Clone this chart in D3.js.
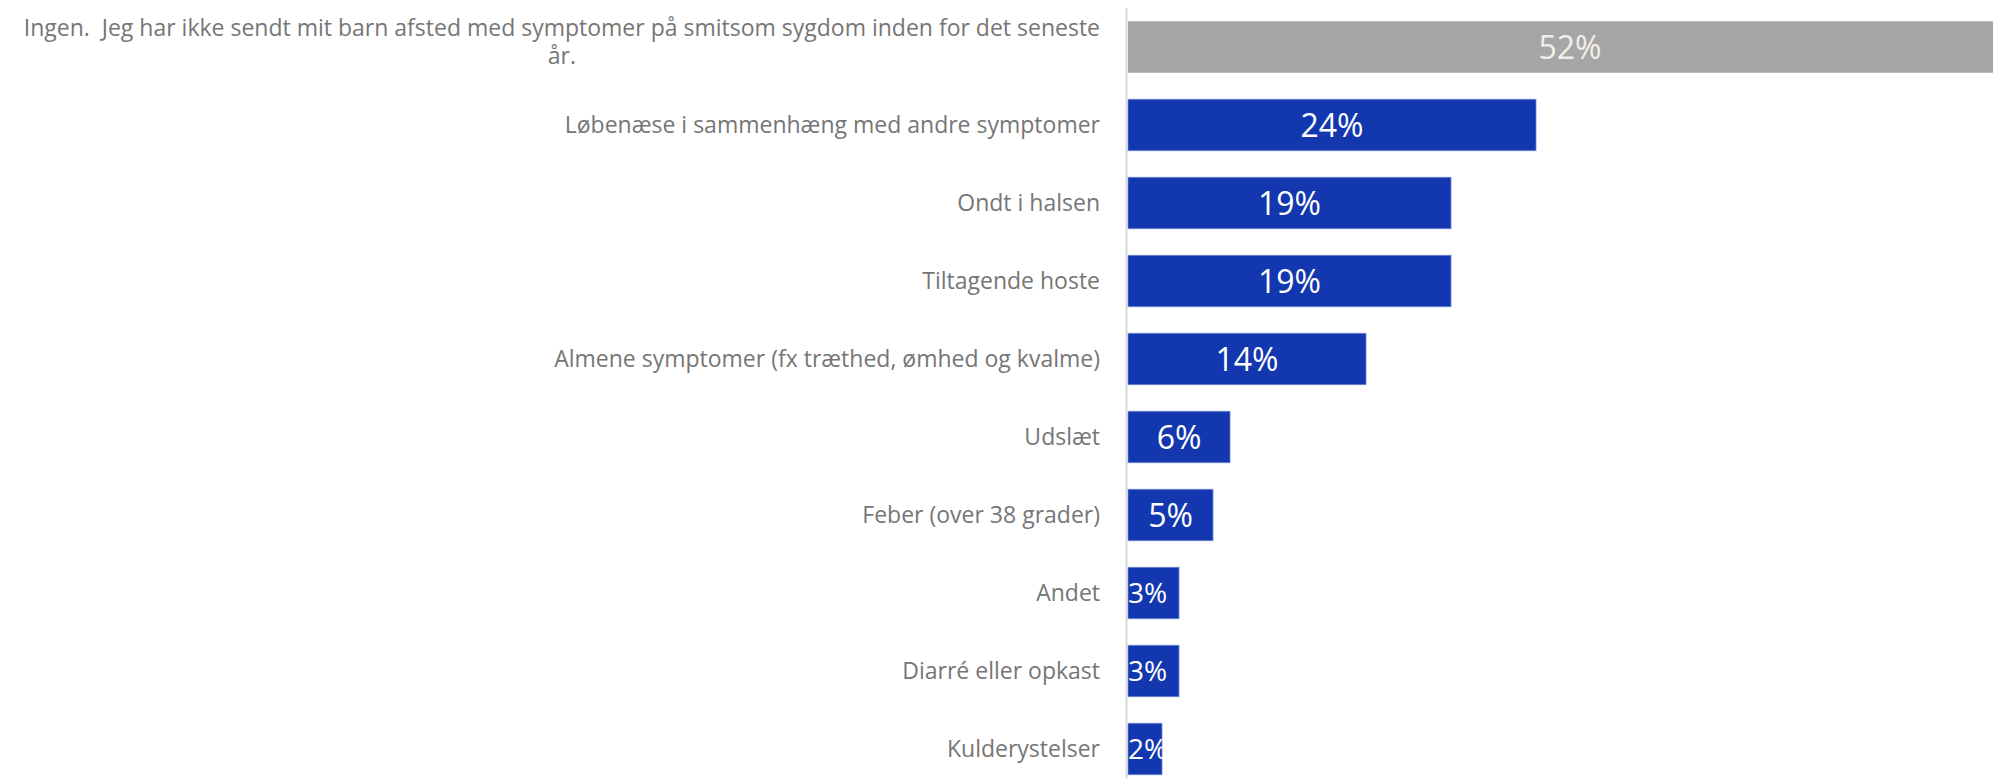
<!DOCTYPE html>
<html>
<head>
<meta charset="utf-8">
<script src="https://cdn.jsdelivr.net/npm/d3@7"></script>
<style>
  body { margin: 0; background: #fff; }
  svg { display: block; }
  text { white-space: pre; }
</style>
</head>
<body>
<div id="chart"></div>
<script>
// answers, top to bottom
const categories = [
	"Ingen.  Jeg har ikke sendt mit barn afsted med symptomer på smitsom sygdom inden for det seneste år.",
	"Løbenæse i sammenhæng med andre symptomer",
	"Ondt i halsen",
	"Tiltagende hoste",
	"Almene symptomer (fx træthed, ømhed og kvalme)",
	"Udslæt",
	"Feber (over 38 grader)",
	"Andet",
	"Diarré eller opkast",
	"Kulderystelser"
]
const values = [52, 24, 19, 19, 14, 6, 5, 3, 3, 2]
// first row is the "none" answer, drawn in gray
const highlight = [true, false, false, false, false, false, false, false, false, false]

const width = 1993
const height = 779
const x0 = 1128

const svg = d3.select("#chart").append("svg")
	.attr("width", width)
	.attr("height", height)
	.attr("font-family", "'Open Sans', sans-serif")

const x = d3.scaleLinear()
	.domain([0, 52])
	.range([x0, x0 + 884])

const y = d3.scaleBand()
	.domain(categories)
	.range([8, 788])
	.paddingInner(0.34)
	.paddingOuter(0.17)

const rows = categories.map((c, i) => ({cat: c, value: values[i], gray: highlight[i]}))

// bars
svg.append("g")
	.selectAll("rect")
	.data(rows)
	.join("rect")
		.attr("x", x(0))
		.attr("y", d => y(d.cat))
		.attr("width", d => x(d.value) - x(0))
		.attr("height", y.bandwidth())
		.attr("fill", d => d.gray ? "#a6a6a6" : "#1237ae")
		.attr("stroke", d => d.gray ? "none" : "#6f88d6")
		.attr("stroke-width", 0.8)

// vertical axis line
svg.append("line")
	.attr("x1", x(0) - 1.5)
	.attr("x2", x(0) - 1.5)
	.attr("y1", 8)
	.attr("y2", height)
	.attr("stroke", "#d9d9d9")
	.attr("stroke-width", 2)

// category labels, the long one wraps on two lines
const labelX = 1100
const lab = svg.append("g")
	.attr("fill", "#767676")
	.attr("font-size", 23)
	.selectAll("text")
	.data(rows)
	.join("text")
		.attr("y", d => y(d.cat) + y.bandwidth() / 2)

lab.each(function(d) {
	const t = d3.select(this)
	if (d.cat.length > 60) {
		const cut = d.cat.lastIndexOf(" ")
		const l1 = d.cat.slice(0, cut), l2 = d.cat.slice(cut + 1)
		t.attr("text-anchor", "middle")
		const a = t.append("tspan").attr("dy", "-0.5em").text(l1)
		const w = a.node().getComputedTextLength()
		a.attr("x", labelX - w / 2)
		t.append("tspan").attr("x", labelX - w / 2).attr("dy", "1.24em").text(l2)
	} else {
		t.attr("x", labelX)
			.attr("text-anchor", "end")
			.attr("dy", "0.35em")
			.text(d.cat)
	}
})

// value labels inside the bars
svg.append("g")
	.selectAll("text")
	.data(rows)
	.join("text")
		.attr("x", d => d.value <= 3 ? x(0) : (x(0) + x(d.value)) / 2)
		.attr("y", d => y(d.cat) + y.bandwidth() / 2)
		.attr("dy", "0.36em")
		.attr("text-anchor", d => d.value <= 3 ? "start" : "middle")
		.attr("font-size", d => d.value <= 3 ? 28 : 32)
		.attr("fill", d => d.gray ? "#f2f0e6" : "#ffffff")
		.text(d => d.value + "%")
</script>
</body>
</html>
